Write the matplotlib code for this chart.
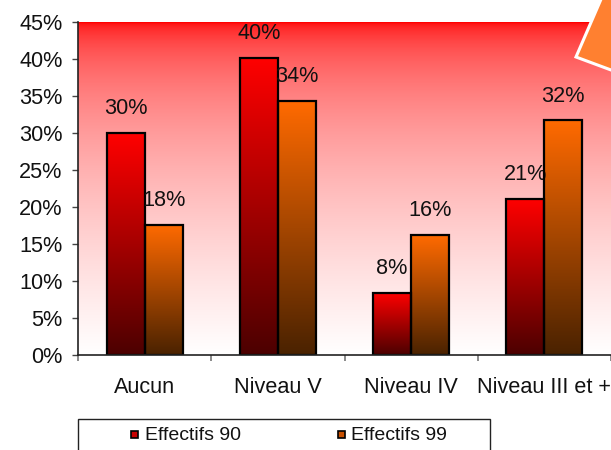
import numpy as np
import matplotlib
matplotlib.use("Agg")
import matplotlib.pyplot as plt
from matplotlib.patches import Rectangle, Polygon

plt.rcParams["font.family"] = ["Liberation Sans", "DejaVu Sans"]

categories = ["Aucun", "Niveau V", "Niveau IV", "Niveau III et +"]
effectifs_90 = [30.0, 40.2, 8.4, 21.1]
effectifs_99 = [17.6, 34.3, 16.2, 31.7]
series_names = ["Effectifs 90", "Effectifs 99"]
yticks = [0, 5, 10, 15, 20, 25, 30, 35, 40, 45]

W, H = 611, 450
fig = plt.figure(figsize=(W / 100, H / 100), dpi=100)
ax = fig.add_axes([78 / W, (H - 355) / H, 533 / W, 333 / H])

FS = 15.6


def px(x, y):
    # pixel position (from top-left) to figure fraction
    return x / W, 1 - y / H


# red-to-white background of the plotting area
f = np.linspace(0, 1, 256) ** 0.45
bg = np.ones((256, 1, 3))
bg[:, 0, 1] = f
bg[:, 0, 2] = f
ax.imshow(bg, extent=(0, 1, 0, 1), transform=ax.transAxes, aspect="auto",
          origin="upper", zorder=0)


def vgrad(top, bottom, n=128):
    top = np.array(matplotlib.colors.to_rgb(top))
    bottom = np.array(matplotlib.colors.to_rgb(bottom))
    t = np.linspace(0, 1, n)[:, None]
    return (bottom + (top - bottom) * t)[:, None, :]


x = np.arange(len(categories))
width = 0.285
styles = [("#ff0000", "#4c0000"), ("#ff6a00", "#4a2200")]

for k, vals in enumerate([effectifs_90, effectifs_99]):
    offs = -width / 2 if k == 0 else width / 2
    bars = ax.bar(x + offs, vals, width, facecolor="none", edgecolor="black",
                  linewidth=1.6, zorder=3)
    for b, v in zip(bars, vals):
        ax.imshow(vgrad(*styles[k]), extent=(b.get_x(), b.get_x() + b.get_width(), 0, v),
                  aspect="auto", origin="lower", zorder=2)
        ax.annotate("{:.0f}%".format(v), (b.get_x() + b.get_width() / 2, v),
                    xytext=(0, 17.5), textcoords="offset points",
                    ha="center", va="center", fontsize=FS, color="#111111")

ax.set_xlim(-0.5, len(categories) - 0.5)
ax.set_ylim(0, 45)

ax.set_yticks(yticks)
ax.set_yticklabels(["{}%".format(t) for t in yticks])
ax.tick_params(axis="y", length=4.5, width=1, color="#444444", pad=6.5,
               labelsize=FS, labelcolor="#111111")

ax.set_xticks(x)
ax.set_xticklabels(categories)
ax.set_xticks(np.arange(len(categories) + 1) - 0.5, minor=True)
ax.tick_params(axis="x", which="major", length=0, pad=15.5, labelsize=FS,
               labelcolor="#111111")
ax.tick_params(axis="x", which="minor", length=4, width=1.2, color="#777777")

for side in ["top", "right"]:
    ax.spines[side].set_visible(False)
for side in ["left", "bottom"]:
    ax.spines[side].set_color("#222222")
    ax.spines[side].set_linewidth(1.2)
    ax.spines[side].set_zorder(4)

# orange corner triangle
tri = Polygon([px(605, -10), px(576, 57), px(700, 103)], closed=True,
              transform=fig.transFigure, facecolor="#ff8030", edgecolor="white",
              linewidth=2.2, zorder=10)
fig.add_artist(tri)

# legend box at the bottom
x0, y0 = px(78, 460)
x1, y1 = px(490, 419)
fig.add_artist(Rectangle((x0, y0), x1 - x0, y1 - y0, transform=fig.transFigure,
                         facecolor="white", edgecolor="#222222", linewidth=1,
                         clip_on=False))
legend_fill = ["#c80000", "#c85000"]
for name, fc, mx, tx in zip(series_names, legend_fill, [131, 338], [145, 351]):
    rx, ry = px(mx, 438)
    fig.add_artist(Rectangle((rx, ry), 7 / W, 7 / H, transform=fig.transFigure,
                             facecolor=fc, edgecolor="black", linewidth=1.2))
    tx_, ty_ = px(tx, 435)
    fig.text(tx_, ty_, name, fontsize=14, va="center", ha="left", color="#111111")

fig.savefig("out.png", dpi=100)
